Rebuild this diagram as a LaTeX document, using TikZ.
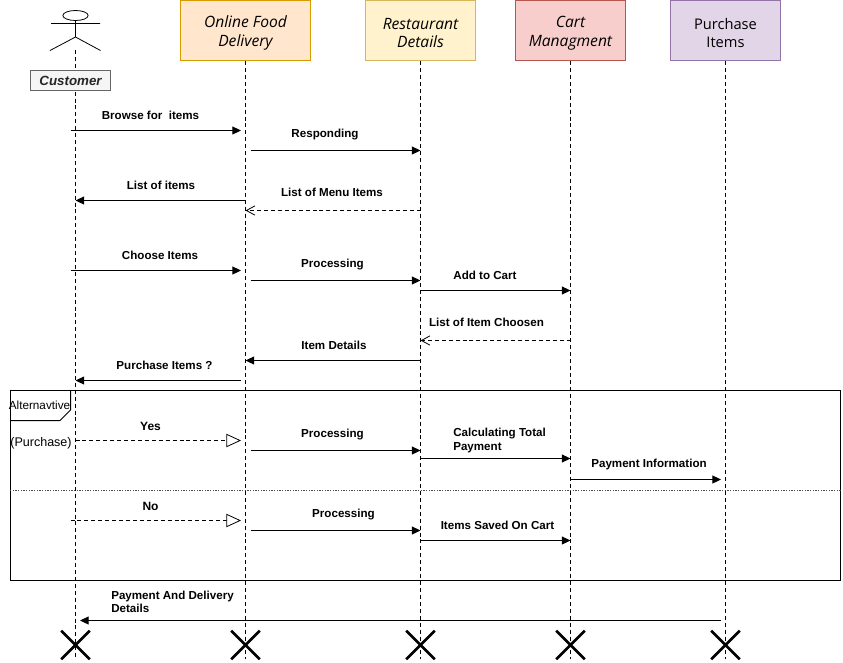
\documentclass[tikz,border=0pt]{standalone}
\usepackage{fontspec}
\setmainfont{Liberation Sans}
\newfontfamily\headfont{Open Sans}
\usetikzlibrary{arrows.meta,shapes.misc,shapes.geometric}
\definecolor{orfill}{HTML}{FFE6CC}\definecolor{ordraw}{HTML}{D79B00}
\definecolor{yefill}{HTML}{FFF2CC}\definecolor{yedraw}{HTML}{D6B656}
\definecolor{refill}{HTML}{F8CECC}\definecolor{redraw}{HTML}{B85450}
\definecolor{pufill}{HTML}{E1D5E7}\definecolor{pudraw}{HTML}{9673A6}
\tikzset{
 x=0.75pt,y=-0.75pt,
 headbox/.style={draw,line width=0.8pt,minimum height=45pt,inner sep=0pt},
 headtext/.style={inner sep=0pt,yshift=-1.9pt,align=center,font=\headfont\itshape\fontsize{11.7}{14}\selectfont},
 headplain/.style={inner sep=0pt,yshift=-1.9pt,align=center,font=\headfont\fontsize{11}{14}\selectfont},
 lifeline/.style={draw,dashed,dash pattern=on 3pt off 2.2pt,line width=0.65pt},
 endcross/.style={cross out,draw,line width=1.9pt,minimum size=19.5pt,inner sep=0pt},
 msg/.style={draw,line width=0.75pt,-{Triangle[length=6.5pt,width=6pt]}},
 reply/.style={draw,line width=0.6pt,dash pattern=on 3pt off 2.2pt,-{Straight Barb[length=6.5pt,width=7pt,line width=0.6pt]}},
 choice/.style={draw,line width=0.6pt,dash pattern=on 3pt off 2.2pt,-{Triangle[open,fill=white,length=11pt,width=10pt,line width=0.6pt]}},
 lbl/.style={inner sep=0pt,yshift=-0.75pt,font=\bfseries\fontsize{8.7}{9.8}\selectfont},
 plain/.style={inner sep=0pt,font=\fontsize{9.4}{11}\selectfont},
}
\newcommand{\arrowmsg}[5]{% style, name, x1, x2, y
 \coordinate (#2a) at (#3,#5); \coordinate (#2b) at (#4,#5);
 \draw[#1] (#2a) -- (#2b);}
\begin{document}
\begin{tikzpicture}
\useasboundingbox (0,0) rectangle (843,662);
% frame
\node[draw,line width=0.75pt,minimum width=622.5pt,minimum height=142.5pt,inner sep=0pt] (frame) at (425.5,485.5) {};
\coordinate (divl) at (frame.west |- 0,490.5); \coordinate (divr) at (frame.east |- 0,490.5);
\draw[line width=0.5pt,dash pattern=on 1pt off 1pt,black!70] (divl) -- (divr);
\coordinate (tabA) at (70.5,390.5); \coordinate (tabB) at (70.5,410); \coordinate (tabC) at (60,420.5); \coordinate (tabD) at (10.5,420.5);
\draw[line width=0.75pt] (tabA) -- (tabB) -- (tabC) -- (tabD);
\node[plain,font=\fontsize{8.8}{11}\selectfont] (alt) at (39.5,405.5) {Alternavtive};
\node[plain] (purch) at (41,443.5) {(Purchase)};
% heads
\coordinate (actfoot) at (75.5,50);
\node[headbox,fill=orfill,draw=ordraw,minimum width=97pt,label={[headtext]center:Online Food\\Delivery}] (online) at (245.5,30.5) {};
\node[headbox,fill=yefill,draw=yedraw,minimum width=82pt,label={[headtext]center:Restaurant\\Details}] (rest) at (420.5,30.5) {};
\node[headbox,fill=refill,draw=redraw,minimum width=82pt,label={[headtext]center:Cart\\Managment}] (cart) at (570.5,30.5) {};
\node[headbox,fill=pufill,draw=pudraw,minimum width=82pt,label={[headplain]center:Purchase\\Items}] (items) at (725.5,30.5) {};
% ends
\node[endcross] (x1) at (75.5,645) {};
\node[endcross] (x2) at (245.5,645) {};
\node[endcross] (x3) at (420.5,645) {};
\node[endcross] (x4) at (570.5,645) {};
\node[endcross] (x5) at (725.5,645) {};
\coordinate (l1) at (75.5,659); \coordinate (l2) at (245.5,659); \coordinate (l3) at (420.5,659); \coordinate (l4) at (570.5,659); \coordinate (l5) at (725.5,659);
\draw[lifeline] (actfoot) -- (l1);
\draw[lifeline] (online.south) -- (l2);
\draw[lifeline] (rest.south) -- (l3);
\draw[lifeline] (cart.south) -- (l4);
\draw[lifeline] (items.south) -- (l5);
% actor
\node[draw,ellipse,line width=0.6pt,minimum width=19pt,minimum height=7.5pt,inner sep=0pt,fill=white] (head) at (75.5,15.5) {};
\coordinate (neck) at (75.5,37); \coordinate (armL) at (51,23.5); \coordinate (armR) at (100,23.5);
\coordinate (legL) at (50,50.5); \coordinate (legR) at (100.5,50.5);
\draw[line width=0.6pt] (head.south) -- (neck) (armL) -- (armR) (legL) -- (neck) -- (legR);
\node[draw=black!60,fill=black!4,line width=0.6pt,minimum width=60pt,minimum height=15pt,inner sep=0pt] (customer) at (70.5,80.5) {};
\node[text=black!85,inner sep=0pt,yshift=-0.5pt,font=\bfseries\itshape\fontsize{10}{11}\selectfont] (customertext) at (customer.center) {Customer};
% messages
\arrowmsg{msg}{m1}{70.5}{241}{130.5}
\node[lbl] (t1) at (150.5,114) {Browse for\ \ items};
\arrowmsg{msg}{m2}{250.5}{420.5}{150.5}
\node[lbl] (t2) at (325,134) {Responding};
\arrowmsg{msg}{m3}{245.5}{75.5}{200.5}
\node[lbl] (t3) at (161,184) {List of items};
\arrowmsg{reply}{m4}{420.5}{245.5}{210.5}
\node[lbl] (t4) at (332,191) {List of Menu Items};
\arrowmsg{msg}{m5}{70.5}{241}{270.5}
\node[lbl] (t5) at (160,254) {Choose Items};
\arrowmsg{msg}{m6}{250.5}{420.5}{280.5}
\node[lbl] (t6) at (332.5,264) {Processing};
\arrowmsg{msg}{m7}{420.5}{570.5}{290.5}
\node[lbl] (t7) at (485,274) {Add to Cart};
\arrowmsg{reply}{m8}{570.5}{420.5}{340.5}
\node[lbl] (t8) at (486.5,321) {List of Item Choosen};
\arrowmsg{msg}{m9}{420.5}{245.5}{360.5}
\node[lbl] (t9) at (334,344) {Item Details};
\arrowmsg{msg}{m10}{241}{75.5}{380.5}
\node[lbl] (t10) at (164.5,364) {Purchase Items ?};
\arrowmsg{choice}{m11}{75.5}{241}{440.5}
\node[lbl,font=\bfseries\fontsize{9}{11}\selectfont] (t11) at (150.5,425.5) {Yes};
\arrowmsg{msg}{m12}{250.5}{420.5}{450.5}
\node[lbl] (t12) at (332.5,434) {Processing};
\arrowmsg{msg}{m13}{420.5}{570.5}{458.5}
\node[lbl,align=left,anchor=west] (t13) at (453,439.5) {Calculating Total\\Payment};
\arrowmsg{msg}{m14}{570.5}{721}{479.5}
\node[lbl] (t14) at (649,463) {Payment Information};
\arrowmsg{choice}{m15}{70.5}{241}{520.5}
\node[lbl,font=\bfseries\fontsize{9}{11}\selectfont] (t15) at (150.5,505.5) {No};
\arrowmsg{msg}{m16}{250.5}{420.5}{530.5}
\node[lbl] (t16) at (343.5,514) {Processing};
\arrowmsg{msg}{m17}{420.5}{570.5}{540.5}
\node[lbl] (t17) at (497.5,524) {Items Saved On Cart};
\arrowmsg{msg}{m18}{721}{80}{620.5}
\node[lbl,align=left,anchor=west] (t18) at (111,600.5) {Payment And Delivery\\Details};
\end{tikzpicture}
\end{document}
